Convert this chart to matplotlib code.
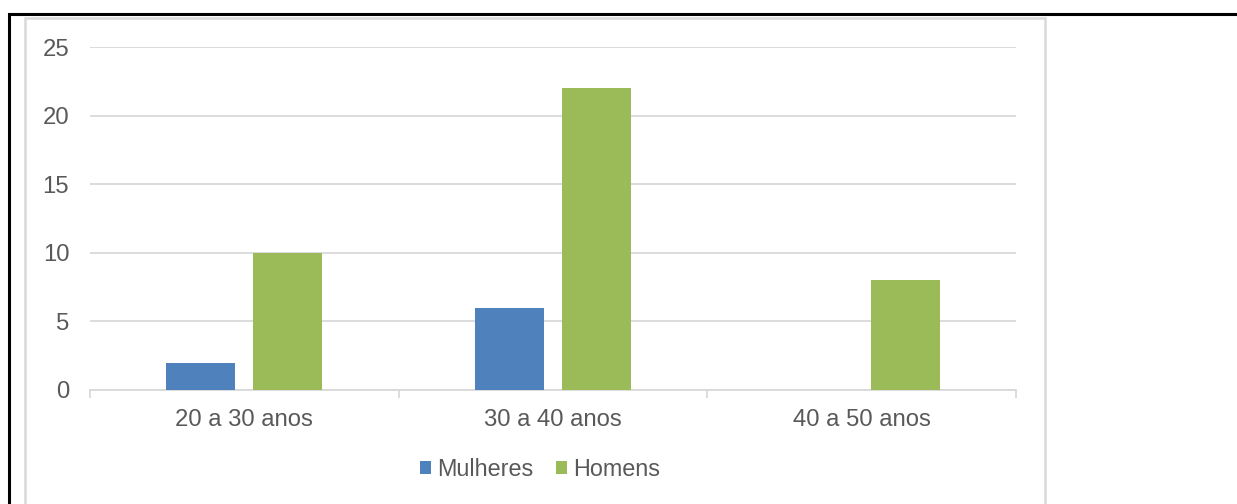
import matplotlib.pyplot as plt
import numpy as np
from matplotlib.patches import Rectangle

plt.rcParams['font.family'] = ['Liberation Sans', 'DejaVu Sans']

categorias = ['20 a 30 anos', '30 a 40 anos', '40 a 50 anos']
mulheres = [2, 6, 0]
homens = [10, 22, 8]
y_ticks = [0, 5, 10, 15, 20, 25]

azul = '#4F81BD'
verde = '#9BBB59'
cinza = '#D9D9D9'
texto = '#595959'

W, H = 1237, 504
fig = plt.figure(figsize=(W / 100, H / 100), dpi=100)

# moldura preta externa e borda cinza da area do grafico
fig.patches.append(Rectangle((8.5 / W, -0.1), 1.2, (H - 14) / H + 0.1,
                             transform=fig.transFigure, fill=False,
                             edgecolor='black', linewidth=2.2))
fig.patches.append(Rectangle((25 / W, -0.1), (1045 - 25) / W, (H - 17.5) / H + 0.1,
                             transform=fig.transFigure, fill=False,
                             edgecolor=cinza, linewidth=1.8))

ax = fig.add_axes([90 / W, 114 / H, (1016 - 90) / W, 343 / H])

x = np.arange(len(categorias))
largura = 0.2235
desloc = 0.141
ax.bar(x - desloc, mulheres, largura, color=azul, label='Mulheres', zorder=3)
ax.bar(x + desloc, homens, largura, color=verde, label='Homens', zorder=3)

ax.set_xlim(-0.5, 2.5)
ax.set_ylim(0, 25)
ax.set_yticks(y_ticks)
ax.set_xticks(x)
ax.set_xticklabels(categorias)
ax.set_xticks([-0.5, 0.5, 1.5, 2.5], minor=True)

ax.yaxis.grid(True, color=cinza, linewidth=1.3, zorder=0)
ax.set_axisbelow(True)
for lado in ['top', 'right', 'left']:
    ax.spines[lado].set_visible(False)
ax.spines['bottom'].set_color(cinza)
ax.spines['bottom'].set_linewidth(1.3)

ax.tick_params(axis='y', length=0, pad=15, labelsize=17.2, labelcolor=texto)
ax.tick_params(axis='x', which='major', length=0, pad=13.5, labelsize=17.2, labelcolor=texto)
ax.tick_params(axis='x', which='minor', length=6, width=1.3, color=cinza)

fig.legend(loc='center', bbox_to_anchor=(540 / W, 1 - 469 / H), ncol=2,
           frameon=False, fontsize=16.8, labelcolor=texto,
           handlelength=0.48, handleheight=0.48, handletextpad=0.26,
           columnspacing=0.95)

fig.savefig('out.png', dpi=100, facecolor='white')
